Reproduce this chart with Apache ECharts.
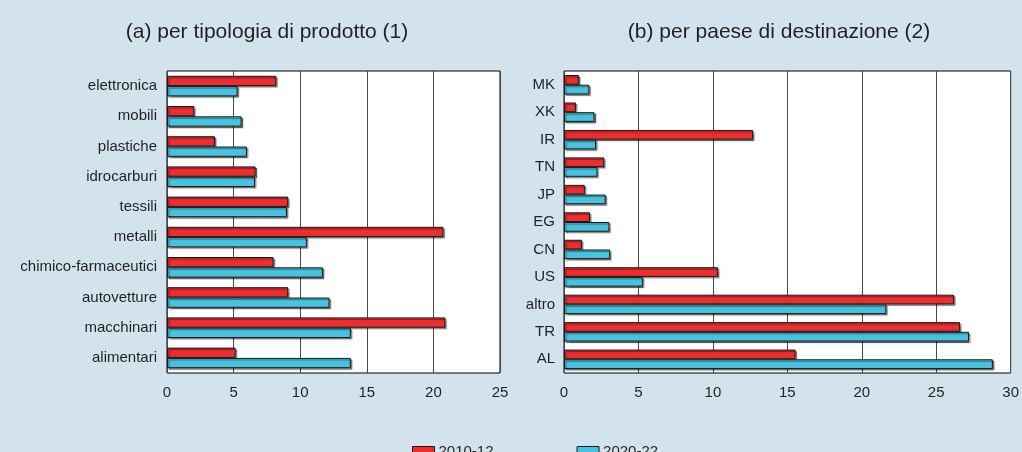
<!DOCTYPE html>
<html>
<head>
<meta charset="utf-8">
<script src="https://cdn.jsdelivr.net/npm/echarts@6/dist/echarts.min.js"></script>
<style>
html,body{margin:0;padding:0;background:#d3e3ed;}
#chart{width:1022px;height:452px;}
</style>
</head>
<body>
<div id="chart"></div>
<script>
// Panel (a): per tipologia di prodotto (top to bottom)
const prodCategories = ['elettronica','mobili','plastiche','idrocarburi','tessili','metalli','chimico-farmaceutici','autovetture','macchinari','alimentari'];
const prod2010 = [8.2, 2.05, 3.6, 6.65, 9.1, 20.75, 8.0, 9.1, 20.9, 5.15];
const prod2020 = [5.3, 5.6, 6.0, 6.6, 9.0, 10.5, 11.7, 12.2, 13.8, 13.8];

// Panel (b): per paese di destinazione (top to bottom)
const countryCategories = ['MK','XK','IR','TN','JP','EG','CN','US','altro','TR','AL'];
const country2010 = [1.0, 0.8, 12.7, 2.7, 1.4, 1.75, 1.2, 10.35, 26.2, 26.6, 15.55];
const country2020 = [1.7, 2.05, 2.15, 2.25, 2.8, 3.05, 3.1, 5.3, 21.65, 27.2, 28.8];

const seriesNames = ['2010-12', '2020-22'];
const titles = ['(a) per tipologia di prodotto (1)', '(b) per paese di destinazione (2)'];

const RED = '#ee2d2f';
const BLUE = '#48c3df';
const TXT = '#231f20';
const FONT = 'Liberation Sans, Arial, sans-serif';

function barStyle(color) {
  return {
    color: color,
    borderColor: '#1a1a1a',
    borderWidth: 1,
    shadowColor: 'rgba(0,0,0,0.45)',
    shadowOffsetX: 1.5,
    shadowOffsetY: 1.5,
    shadowBlur: 1
  };
}

const xAxisCommon = {
  type: 'value',
  min: 0,
  interval: 5,
  axisLine: {show: false},
  axisTick: {show: false},
  axisLabel: {color: TXT, fontSize: 15, fontFamily: FONT, margin: 12},
  splitLine: {show: true, lineStyle: {color: '#4a4a4a', width: 1}}
};
const yAxisCommon = {
  type: 'category',
  inverse: true,
  axisLine: {show: false},
  axisTick: {show: false},
  splitLine: {show: false}
};

const chart = echarts.init(document.getElementById('chart'));
chart.setOption({
  backgroundColor: '#d3e3ed',
  animation: false,
  textStyle: {fontFamily: FONT},
  title: [
    {text: titles[0], left: 262, top: 17, textAlign: 'center',
     textStyle: {fontSize: 21, fontWeight: 'normal', color: TXT, fontFamily: FONT}},
    {text: titles[1], left: 774, top: 17, textAlign: 'center',
     textStyle: {fontSize: 21, fontWeight: 'normal', color: TXT, fontFamily: FONT}}
  ],
  legend: {
    data: seriesNames.map(n => ({name: n, icon: 'rect'})),
    left: 407,
    top: 439,
    itemWidth: 22,
    itemHeight: 10,
    itemGap: 83,
    itemStyle: {shadowColor: 'rgba(0,0,0,0)', shadowBlur: 0, shadowOffsetX: 0, shadowOffsetY: 0, borderColor: '#1a1a1a', borderWidth: 1},
    textStyle: {color: TXT, fontSize: 15, fontFamily: FONT, padding: [0,0,0,-1]}
  },
  grid: [
    {left: 167, top: 71, width: 333, height: 302, show: true, backgroundColor: '#fff', borderColor: '#000', borderWidth: 1, containLabel: false},
    {left: 564, top: 71, width: 449, height: 302, show: true, backgroundColor: '#fff', borderColor: '#000', borderWidth: 1, containLabel: false}
  ],
  xAxis: [
    Object.assign({}, xAxisCommon, {gridIndex: 0, max: 25}),
    Object.assign({}, xAxisCommon, {gridIndex: 1, max: 30})
  ],
  yAxis: [
    Object.assign({}, yAxisCommon, {gridIndex: 0, data: prodCategories,
      axisLabel: {color: TXT, fontSize: 15, fontFamily: FONT, margin: 10}}),
    Object.assign({}, yAxisCommon, {gridIndex: 1, data: countryCategories,
      axisLabel: {color: TXT, fontSize: 15, fontFamily: FONT, margin: 9}})
  ],
  series: [
    {name: seriesNames[0], type: 'bar', xAxisIndex: 0, yAxisIndex: 0, data: prod2010,
     barWidth: 10.3, barGap: '0%', itemStyle: barStyle(RED)},
    {name: seriesNames[1], type: 'bar', xAxisIndex: 0, yAxisIndex: 0, data: prod2020,
     barWidth: 10.3, barGap: '0%', itemStyle: barStyle(BLUE)},
    {name: seriesNames[0], type: 'bar', xAxisIndex: 1, yAxisIndex: 1, data: country2010,
     barWidth: 9.7, barGap: '0%', itemStyle: barStyle(RED)},
    {name: seriesNames[1], type: 'bar', xAxisIndex: 1, yAxisIndex: 1, data: country2020,
     barWidth: 9.7, barGap: '0%', itemStyle: barStyle(BLUE)}
  ]
});
</script>
</body>
</html>
